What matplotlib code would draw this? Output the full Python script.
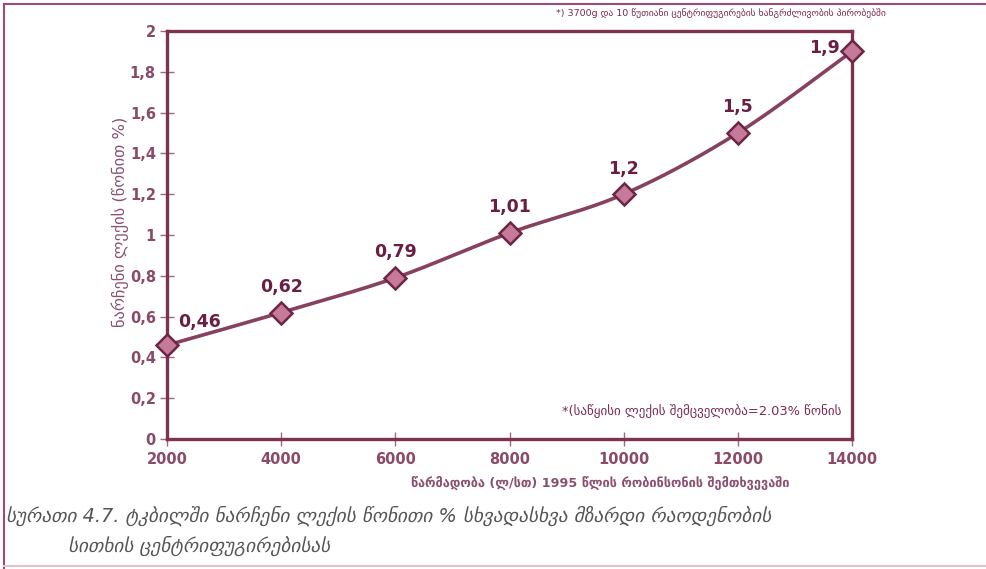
import numpy as np
import matplotlib
matplotlib.use("Agg")
import matplotlib.pyplot as plt
from matplotlib.lines import Line2D

plt.rcParams['font.family'] = ['DejaVu Sans']

# Throughput (l/h) and residual sediment (% by weight)
throughput = [2000, 4000, 6000, 8000, 10000, 12000, 14000]
sediment = [0.46, 0.62, 0.79, 1.01, 1.2, 1.5, 1.9]
value_labels = ["0,46", "0,62", "0,79", "1,01", "1,2", "1,5", "1,9"]
x_ticks = [2000, 4000, 6000, 8000, 10000, 12000, 14000]
y_ticks = [0, 0.2, 0.4, 0.6, 0.8, 1, 1.2, 1.4, 1.6, 1.8, 2]
y_tick_labels = ["0", "0,2", "0,4", "0,6", "0,8", "1", "1,2", "1,4", "1,6", "1,8", "2"]

top_note = "*) 3700g და 10 წუთიანი ცენტრიფუგირების ხანგრძლივობის პირობებში"
y_title = "ნარჩენი ლექის (წონით %)"
x_title = "წარმადობა (ლ/სთ) 1995 წლის რობინსონის შემთხვევაში"
inner_note = "*(საწყისი ლექის შემცველობა=2.03% წონის"
caption_1 = "სურათი 4.7. ტკბილში ნარჩენი ლექის წონითი % სხვადასხვა მზარდი რაოდენობის"
caption_2 = "სითხის ცენტრიფუგირებისას"

LINE = "#874160"
AXIS = "#7d3350"
MFACE = "#c47a98"
MEDGE = "#6e2446"
LABEL = "#6a1f42"
TICK = "#8a4a68"
NARROW = ['Liberation Sans Narrow', 'DejaVu Sans']


def smooth(xs, ys, n=40):
    """Cubic Bezier smoothing through the points (spreadsheet-style smooth line)."""
    xs = np.asarray(xs, float)
    ys = np.asarray(ys, float)
    px, py = [], []
    m = len(xs)
    for i in range(m - 1):
        x0, y0 = (xs[i - 1], ys[i - 1]) if i > 0 else (xs[i], ys[i])
        x1, y1 = xs[i], ys[i]
        x2, y2 = xs[i + 1], ys[i + 1]
        x3, y3 = (xs[i + 2], ys[i + 2]) if i + 2 < m else (xs[i + 1], ys[i + 1])
        c1x, c1y = x1 + (x2 - x0) / 6, y1 + (y2 - y0) / 6
        c2x, c2y = x2 - (x3 - x1) / 6, y2 - (y3 - y1) / 6
        t = np.linspace(0, 1, n)
        bx = (1 - t) ** 3 * x1 + 3 * (1 - t) ** 2 * t * c1x + 3 * (1 - t) * t ** 2 * c2x + t ** 3 * x2
        by = (1 - t) ** 3 * y1 + 3 * (1 - t) ** 2 * t * c1y + 3 * (1 - t) * t ** 2 * c2y + t ** 3 * y2
        px.extend(bx)
        py.extend(by)
    return np.array(px), np.array(py)


fig = plt.figure(figsize=(9.86, 5.69), dpi=100)
W, H = 986, 569

# outer frame of the figure box
fig.add_artist(Line2D([4 / W, 4 / W], [0, 1 - 4 / H], transform=fig.transFigure, color="#9b4a80", lw=1.5))
fig.add_artist(Line2D([4 / W, 1], [1 - 4 / H, 1 - 4 / H], transform=fig.transFigure, color="#9b4a80", lw=1.5))
fig.add_artist(Line2D([4 / W, 1], [3 / H, 3 / H], transform=fig.transFigure, color="#e2c3d3", lw=1.5))

ax = fig.add_axes([167 / W, 1 - 439 / H, (852 - 167) / W, (439 - 31) / H])
ax.set_xlim(2000, 14000)
ax.set_ylim(0, 2)

sx, sy = smooth(throughput, sediment)
ax.plot(sx, sy, color=LINE, lw=2.6, solid_capstyle="round", zorder=3, clip_on=False)
ax.plot(throughput, sediment, linestyle="none", marker="D", markersize=11.5,
        markerfacecolor=MFACE, markeredgecolor=MEDGE, markeredgewidth=1.8, zorder=4, clip_on=False)

for i, (x, y, s) in enumerate(zip(throughput, sediment, value_labels)):
    if i == 0:
        xy, ha = (8, 10), "left"
    elif i == len(throughput) - 1:
        xy, ha = (-9, -4), "right"
    else:
        xy, ha = (0, 12), "center"
    ax.annotate(s, (x, y), xytext=xy, textcoords="offset points", ha=ha, va="bottom",
                fontsize=12.5, fontweight="bold", color=LABEL)

for sp in ax.spines.values():
    sp.set_color(AXIS)
    sp.set_linewidth(2.4)

ax.set_xticks(x_ticks)
ax.set_xticklabels([str(v) for v in x_ticks])
ax.set_yticks(y_ticks)
ax.set_yticklabels(y_tick_labels)
ax.tick_params(axis="both", direction="inout", length=10, width=1.0, color="#9a6a82",
               labelsize=10.5, labelcolor=TICK, pad=4)
ax.tick_params(axis="y", pad=3)
for lab in ax.get_xticklabels() + ax.get_yticklabels():
    lab.set_fontweight("bold")
    lab.set_family(NARROW)

ax.text(0.985, 0.07, inner_note, transform=ax.transAxes, ha="right", va="center",
        fontsize=9.4, color="#7a2a50")

fig.text(120 / W, 1 - 222 / H, y_title, rotation=90, ha="center", va="center",
         fontsize=11.8, color="#8a5070")
fig.text(600 / W, 1 - 483 / H, x_title, ha="center", va="center",
         fontsize=9.2, fontweight="bold", color="#8a5070")
fig.text(556 / W, 1 - 13 / H, top_note, ha="left", va="center",
         fontsize=6.8, color="#7a2a50")

fig.text(6 / W, 1 - 516 / H, caption_1, ha="left", va="center", fontsize=13.9,
         style="italic", color="#555555")
fig.text(68 / W, 1 - 546 / H, caption_2, ha="left", va="center", fontsize=13.9,
         style="italic", color="#555555")

fig.savefig("out.png", dpi=100)
